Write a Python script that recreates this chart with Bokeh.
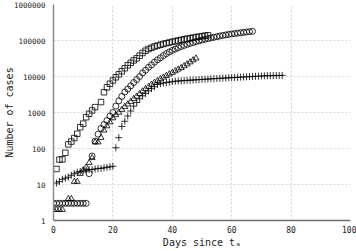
from bokeh.plotting import figure
from bokeh.models import FixedTicker, NumeralTickFormatter, Range1d
from bokeh.embed import file_html
from bokeh.resources import INLINE

x_ticks = [0, 20, 40, 60, 80, 100]
y_ticks = [1, 10, 100, 1000, 10000, 100000, 1000000]

sq_days = [1, 2, 3, 4, 5, 6, 7, 8, 9, 10, 11, 12, 13, 14, 16, 17, 18, 19, 20, 21, 22, 23, 24, 25, 26,
           27, 28, 29, 30, 31, 32, 33, 34, 35, 36, 37, 38, 39, 40, 41, 42, 43, 44, 45, 46, 47, 48, 49,
           50, 51, 52]
sq_vals = [27, 49, 50, 76, 130, 156, 195, 257, 390, 490, 740, 920, 1140, 1410, 1950, 3650, 5000, 6300,
           7750, 9500, 11500, 14000, 17000, 20500, 24000, 28000, 32000, 38000, 45000, 52000, 58000,
           63000, 68000, 72000, 76000, 80000, 84000, 88000, 92000, 96000, 100000, 104000, 108000,
           112000, 116000, 120000, 124000, 128000, 132000, 136000, 140000]

ci_days = [0, 1, 2, 3, 4, 5, 6, 7, 8, 9, 10, 11, 12, 13, 14, 15, 16, 17, 18, 19, 20, 21, 22, 23, 24,
           25, 26, 27, 28, 29, 30, 31, 32, 33, 34, 35, 36, 37, 38, 39, 40, 41, 42, 43, 44, 45, 46, 47,
           48, 49, 50, 51, 52, 53, 54, 55, 56, 57, 58, 59, 60, 61, 62, 63, 64, 65, 66, 67]
ci_vals = [3, 3, 3, 3, 3, 3, 3, 3, 3, 3, 3, 3, 20, 62, 160, 250, 360, 460, 600, 800, 1000, 1500, 2100,
           2800, 3700, 4500, 5500, 6800, 8200, 10000, 12500, 15000, 18000, 21000, 25000, 29000, 33000,
           38000, 43000, 48000, 53000, 58000, 63000, 68000, 73000, 78000, 83000, 88000, 93000, 98000,
           103000, 108000, 113000, 118000, 123000, 128000, 133000, 138000, 143000, 148000, 152000,
           156000, 160000, 164000, 168000, 172000, 176000, 180000]

tr_days = [0, 1, 2, 3, 5, 6, 7, 8, 9, 10, 11, 12, 13, 14, 15, 16, 17, 18, 19, 20, 21, 22, 23, 24, 25,
           26, 27, 28, 29, 30, 31, 32, 33, 34, 35, 36, 37, 38, 39, 40, 41, 42, 43, 44, 45, 46, 47, 48]
tr_vals = [2, 2, 2, 2, 4, 4, 12, 12, 20, 25, 30, 40, 55, 150, 150, 200, 320, 420, 540, 700, 850, 1000,
           1200, 1450, 1700, 2000, 2400, 2800, 3300, 3900, 4500, 5200, 6000, 6800, 7600, 8500, 9500,
           10500, 11600, 12800, 14200, 15800, 17500, 19500, 22000, 25000, 28500, 32000]

pl_days = [1, 2, 3, 4, 5, 6, 7, 8, 9, 10, 11, 12, 13, 14, 15, 16, 17, 18, 19, 20, 21, 22, 23, 24, 25,
           26, 27, 28, 29, 30, 31, 32, 33, 34, 35, 36, 37, 38, 39, 40, 41, 42, 43, 44, 45, 46, 47, 48,
           49, 50, 51, 52, 53, 54, 55, 56, 57, 58, 59, 60, 61, 62, 63, 64, 65, 66, 67, 68, 69, 70, 71,
           72, 73, 74, 75, 76, 77]
pl_vals = [11, 12, 14, 15, 16, 18, 20, 22, 23, 24, 25, 26, 26, 27, 28, 28, 29, 30, 31, 32, 105, 200,
           410, 570, 800, 1100, 1500, 1900, 2400, 2900, 3400, 4000, 4600, 5200, 6000, 6300, 6600, 6800,
           7000, 7200, 7400, 7500, 7600, 7700, 7800, 7900, 8000, 8100, 8200, 8300, 8400, 8500, 8600,
           8700, 8800, 8900, 9000, 9100, 9200, 9300, 9400, 9500, 9600, 9700, 9800, 9900, 10000, 10100,
           10200, 10300, 10400, 10500, 10550, 10600, 10650, 10700, 10750]

FONT = "DejaVu Sans Mono"

p = figure(width=356, height=251, x_range=Range1d(0, 100), y_range=Range1d(1, 1e6),
           y_axis_type="log", output_backend="svg", toolbar_location=None,
           min_border_left=50, min_border_right=6, min_border_top=4, min_border_bottom=31,
           x_axis_label="Days since tₐ", y_axis_label="Number of cases")

mk = dict(fill_color=None, line_color="black", line_width=0.8)
p.scatter(sq_days, sq_vals, marker="square", size=5.5, **mk)
p.scatter(ci_days, ci_vals, marker="circle", size=6, **mk)
p.scatter(tr_days, tr_vals, marker="triangle", size=6, **mk)
p.scatter(pl_days, pl_vals, marker="cross", size=7, **mk)

p.xaxis.ticker = FixedTicker(ticks=x_ticks)
p.yaxis.ticker = FixedTicker(ticks=y_ticks)
p.yaxis.formatter = NumeralTickFormatter(format="0")
p.xgrid.ticker = FixedTicker(ticks=x_ticks)
p.ygrid.ticker = FixedTicker(ticks=y_ticks)

for ax in (p.xaxis[0], p.yaxis[0]):
    ax.major_tick_out = 0
    ax.major_tick_in = 0
    ax.minor_tick_out = 0
    ax.minor_tick_in = 0
    ax.axis_line_color = "#8c8c8c"
    ax.axis_line_width = 1.5
    ax.major_label_text_font = FONT
    ax.major_label_text_color = "#222222"
    ax.axis_label_text_font = FONT
    ax.axis_label_text_font_size = "10px"
    ax.axis_label_text_font_style = "normal"
    ax.axis_label_text_color = "#222222"

p.yaxis.major_label_text_font_size = "7.5px"
p.xaxis.major_label_text_font_size = "8px"
p.yaxis.major_label_standoff = 8
p.yaxis.axis_label_standoff = -4
p.xaxis.major_label_standoff = 5
p.xaxis.axis_label_standoff = 1
p.xaxis.axis_line_color = "#6e6e6e"

p.grid.grid_line_color = "#d4d4d4"
p.grid.grid_line_dash = "2 2"
p.grid.grid_line_width = 1
p.outline_line_color = None

open("out.html", "w").write(file_html(p, INLINE))
